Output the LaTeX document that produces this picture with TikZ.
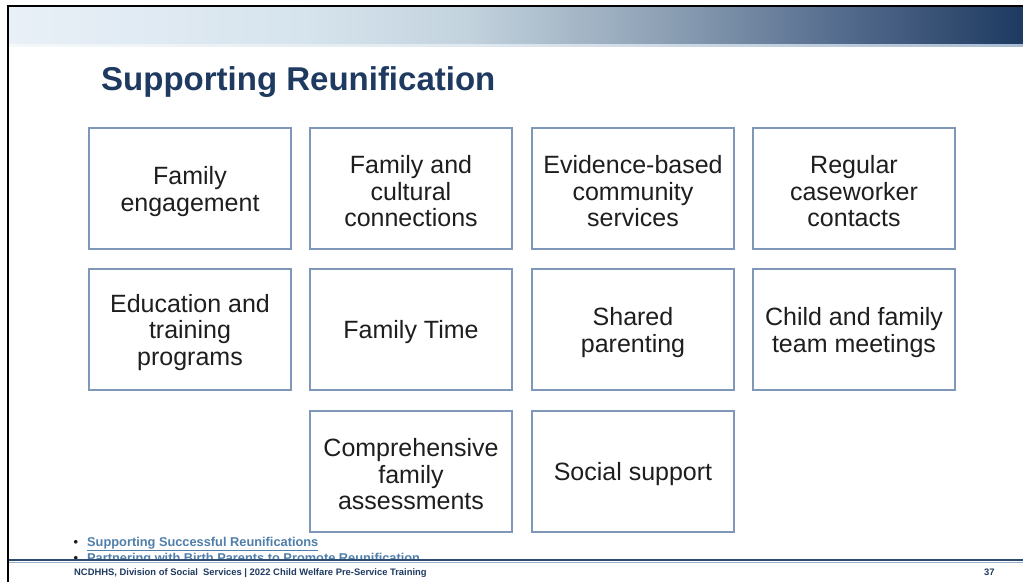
\documentclass[tikz,border=0pt]{standalone}
\usepackage{fontspec}
\setmainfont{Liberation Sans}
\definecolor{navy}{HTML}{1F3A60}
\definecolor{boxblue}{HTML}{7F97B8}
\definecolor{textdark}{HTML}{1E1E1E}
\definecolor{linkblue}{HTML}{4F7FAA}
\definecolor{footline}{HTML}{2E4C72}
\definecolor{footlight}{HTML}{9DB1C8}
\definecolor{gA}{HTML}{E9F0F7}
\definecolor{gB}{HTML}{D6E4ED}
\definecolor{gC}{HTML}{C3D3DE}
\definecolor{gD}{HTML}{8FA2B6}
\definecolor{gE}{HTML}{51698B}
\definecolor{gF}{HTML}{1E3A60}
\definecolor{hA}{HTML}{F4F8FB}
\definecolor{hF}{HTML}{A9BCD3}
\pgfdeclarehorizontalshading{band}{100bp}{color(0bp)=(gA); color(25bp)=(gA); color(39.5bp)=(gB); color(47.5bp)=(gC); color(57bp)=(gD); color(66.5bp)=(gE); color(75bp)=(gF); color(100bp)=(gF)}
\pgfdeclarehorizontalshading{bandline}{100bp}{color(0bp)=(hA); color(25bp)=(hA); color(47.5bp)=(hA!60!gC); color(75bp)=(hF); color(100bp)=(hF)}
\tikzset{
  box/.style={draw=boxblue, line width=1.4pt, minimum width=202pt, minimum height=121pt, inner sep=0pt},
  boxtext/.style={inner sep=0pt, align=center, text=textdark, font=\fontsize{25}{26.5}\selectfont},
  link/.style={anchor=base west, inner sep=0pt, text=linkblue, font=\bfseries\fontsize{12.8}{14}\selectfont},
  foot/.style={anchor=base west, inner sep=0pt, text=navy, font=\bfseries\fontsize{9.4}{11}\selectfont}
}
\begin{document}
\begin{tikzpicture}[x=1pt,y=-1pt]
\useasboundingbox (0,0) rectangle (1023,582);
\fill[white] (0,0) rectangle (1023,582);
% header band
\shade[shading=band] (9,7) rectangle (1023,44);
\shade[shading=bandline] (9,44) rectangle (1023,46.5);
% slide frame
\draw[black, line width=2.6pt] (8,582) -- (8,6) -- (1023,6);
% title
\node[anchor=base west, inner sep=0pt, text=navy, font=\bfseries\fontsize{33}{36}\selectfont] (title) at (101,90.5) {Supporting Reunification};
% boxes
\node[box] (b1) at (190,188.5) {};
\node[box] (b2) at (411,188.5) {};
\node[box] (b3) at (633,188.5) {};
\node[box] (b4) at (854,188.5) {};
\node[box] (b5) at (190,329.5) {};
\node[box] (b6) at (411,329.5) {};
\node[box] (b7) at (633,329.5) {};
\node[box] (b8) at (854,329.5) {};
\node[box] (b9) at (411,471.5) {};
\node[box] (b10) at (633,471.5) {};
\node[boxtext] (t1) at ([yshift=-3pt]b1.center) {Family\\engagement};
\node[boxtext] (t2) at ([yshift=-3pt]b2.center) {Family and\\cultural\\connections};
\node[boxtext] (t3) at ([yshift=-3pt]b3.center) {Evidence-based\\community\\services};
\node[boxtext] (t4) at ([yshift=-3pt]b4.center) {Regular\\caseworker\\contacts};
\node[boxtext] (t5) at ([yshift=-3pt]b5.center) {Education and\\training\\programs};
\node[boxtext] (t6) at ([yshift=-3pt]b6.center) {Family Time};
\node[boxtext] (t7) at ([yshift=-3pt]b7.center) {Shared\\parenting};
\node[boxtext] (t8) at ([yshift=-3pt]b8.center) {Child and family\\team meetings};
\node[boxtext] (t9) at ([yshift=-3pt]b9.center) {Comprehensive\\family\\assessments};
\node[boxtext] (t10) at ([yshift=-3pt]b10.center) {Social support};
% links
\node[link, text=textdark] (bul1) at (73.5,546) {\textbullet};
\node[link] (l1) at (87,546) {\underline{Supporting Successful Reunifications}};
\node[link, text=textdark] (bul2) at (73.5,562.5) {\textbullet};
\node[link] (l2) at (87,562.5) {\underline{Partnering with Birth Parents to Promote Reunification}};
\fill[white] (9.4,561) rectangle (1023,582);
% footer
\draw[footline, line width=1.8pt] (9.4,560) -- (1023,560);
\draw[footlight, line width=0.9pt] (9.4,562) -- (1023,562);
\node[foot] (f1) at (74,575) {NCDHHS, Division of Social\ \ Services | 2022 Child Welfare Pre-Service Training};
\node[foot] (f2) at (984,575) {37};
\end{tikzpicture}
\end{document}
